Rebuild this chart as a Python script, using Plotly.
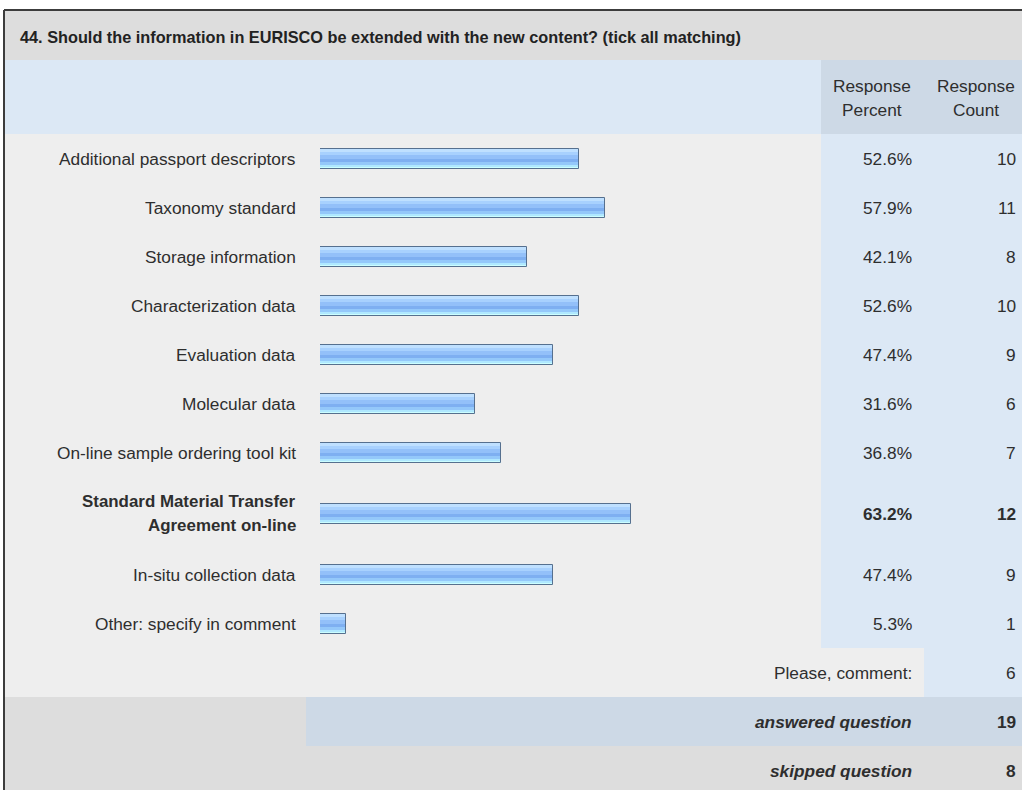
import plotly.graph_objects as go

# ---- survey results -------------------------------------------------------
question = "44. Should the information in EURISCO be extended with the new content? (tick all matching)"
options = [
    "Additional passport descriptors",
    "Taxonomy standard",
    "Storage information",
    "Characterization data",
    "Evaluation data",
    "Molecular data",
    "On-line sample ordering tool kit",
    "Standard Material Transfer\nAgreement on-line",
    "In-situ collection data",
    "Other: specify in comment",
]
percents = [52.6, 57.9, 42.1, 52.6, 47.4, 31.6, 36.8, 63.2, 47.4, 5.3]
counts = [10, 11, 8, 10, 9, 6, 7, 12, 9, 1]
highlighted = ["Standard Material Transfer\nAgreement on-line"]
col_headers = ["Response\nPercent", "Response\nCount"]
comment_label = "Please, comment:"
comment_count = 6
answered_label = "answered question"
answered_count = 19
skipped_label = "skipped question"
skipped_count = 8

# ---- page geometry (pixels) ----------------------------------------------
W, H = 1022, 790
FONT = "Liberation Sans, Arial, sans-serif"
TXT = "#2e2e2e"
FS = 17.3
LINE_H = 24
BODY_TOP = 134
ROW_H = 49
BAR_X0, BAR_X1 = 320, 812          # 0 % .. 100 %
BAR_H = 20
LABEL_RIGHT = 298
PCT_COL, CNT_COL = 821, 924
PCT_RIGHT, CNT_RIGHT = 914, 1018

# row centres, taller rows for wrapped labels
centres = []
y = BODY_TOP
for lab in options:
    h = ROW_H + LINE_H * (lab.count("\n"))
    centres.append(y + h / 2)
    y += h
body_bottom = y
comment_c = body_bottom + ROW_H / 2
answered_top = body_bottom + ROW_H
answered_c = answered_top + ROW_H / 2
skipped_top = answered_top + ROW_H
skipped_c = skipped_top + ROW_H / 2

# bar gradient stripes: (offset from bar top, height, colour)
stripes = [
    (0, 3, "#bfe0ff"),
    (3, 3, "#a8d1fe"),
    (6, 4, "#93c0f9"),
    (10, 3, "#7eaff1"),
    (13, 3, "#94c8fa"),
    (16, 2, "#afe8ff"),
    (18, 2, "#cbfeff"),
]

fig = go.Figure()
for off, h, col in stripes:
    fig.add_trace(go.Bar(
        x=percents, y=centres, orientation="h",
        width=h, offset=off - BAR_H / 2,
        marker=dict(color=col, line=dict(width=0)),
        hoverinfo="skip", showlegend=False,
    ))
fig.add_trace(go.Bar(
    x=percents, y=centres, orientation="h",
    width=BAR_H, offset=-BAR_H / 2,
    marker=dict(color="rgba(0,0,0,0)", line=dict(width=1, color="#56708f")),
    hovertext=[f"{o.replace(chr(10), ' ')}: {p}%" for o, p in zip(options, percents)],
    hoverinfo="text", showlegend=False,
))


def px(x):
    return x / W


def rect(x0, y0, x1, y1, color):
    return dict(type="rect", xref="paper", yref="y", x0=px(x0), x1=px(x1),
                y0=y0, y1=y1, fillcolor=color, line=dict(width=0), layer="below")


shapes = [
    rect(5, 11, W + 5, 60, "#dddddd"),
    rect(5, 60, PCT_COL, BODY_TOP, "#dce8f5"),
    rect(PCT_COL, 60, W + 5, BODY_TOP, "#cdd9e6"),
    rect(5, BODY_TOP, PCT_COL, body_bottom, "#eeeeee"),
    rect(PCT_COL, BODY_TOP, W + 5, body_bottom, "#dce8f5"),
    rect(5, body_bottom, CNT_COL, answered_top, "#eeeeee"),
    rect(CNT_COL, body_bottom, W + 5, answered_top, "#dce8f5"),
    rect(5, answered_top, 306, skipped_top, "#dddddd"),
    rect(306, answered_top, W + 5, skipped_top, "#cdd9e6"),
    rect(5, skipped_top, W + 5, H + 5, "#dddddd"),
    dict(type="line", xref="paper", yref="y", x0=px(4), x1=px(4), y0=10, y1=H + 5,
         line=dict(color="#3c3c3c", width=2), layer="below"),
    dict(type="line", xref="paper", yref="y", x0=px(4), x1=px(W + 5), y0=10, y1=10,
         line=dict(color="#3c3c3c", width=2), layer="below"),
]

ann = []


def text(x, yc, s, anchor="right", bold=False, italic=False, size=FS, color=TXT):
    if bold:
        s = f"<b>{s}</b>"
    if italic:
        s = f"<i>{s}</i>"
    ann.append(dict(xref="paper", yref="y", x=px(x), y=yc, text=s, showarrow=False,
                    xanchor=anchor, yanchor="middle",
                    font=dict(family=FONT, size=size, color=color)))


def multiline(x, yc, s, anchor="right", bold=False, size=FS):
    lines = s.split("\n")
    first = yc - LINE_H * (len(lines) - 1) / 2
    for i, ln in enumerate(lines):
        text(x, first + i * LINE_H, ln, anchor=anchor, bold=bold, size=size)


text(18, 37, question, anchor="left", bold=True, size=16.3, color="#222222")
multiline(872, 98, col_headers[0], anchor="center")
multiline(976, 98, col_headers[1], anchor="center")

for lab, p, c, yc in zip(options, percents, counts, centres):
    b = lab in highlighted
    multiline(LABEL_RIGHT, yc, lab, bold=b, size=16.9 if b else FS)
    text(PCT_RIGHT, yc, f"{p:.1f}%", bold=b)
    text(CNT_RIGHT, yc, f"{c}", bold=b)

text(PCT_RIGHT, comment_c, comment_label)
text(CNT_RIGHT, comment_c, f"{comment_count}")
text(PCT_RIGHT, answered_c, answered_label, bold=True, italic=True)
text(CNT_RIGHT, answered_c, f"{answered_count}", bold=True)
text(PCT_RIGHT, skipped_c, skipped_label, bold=True, italic=True)
text(CNT_RIGHT, skipped_c, f"{skipped_count}", bold=True)

fig.update_layout(
    width=W, height=H,
    margin=dict(l=0, r=0, t=0, b=0),
    paper_bgcolor="white", plot_bgcolor="rgba(0,0,0,0)",
    barmode="overlay", bargap=0,
    xaxis=dict(domain=[px(BAR_X0), px(BAR_X1)], range=[0, 100], visible=False, fixedrange=True),
    yaxis=dict(domain=[0, 1], range=[H, 0], visible=False, fixedrange=True),
    shapes=shapes, annotations=ann,
)

fig.write_html("out.html")
